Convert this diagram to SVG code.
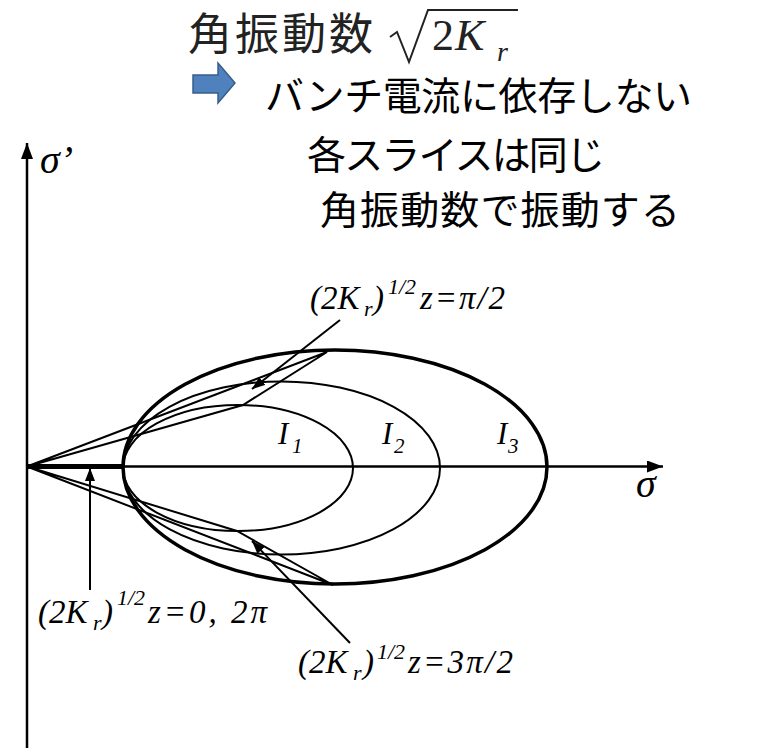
<svg xmlns="http://www.w3.org/2000/svg" width="780" height="748" viewBox="0 0 780 748">
<style>
.ax{stroke:#000;stroke-width:2.5;fill:none}
.ln{stroke:#000;stroke-width:2;fill:none}
.thk{stroke:#000;stroke-width:3.5;fill:none}
.m{font-family:"Liberation Serif","Times New Roman",serif;font-style:italic;fill:#000}
.jp{font-family:"Noto Sans CJK JP","Noto Sans",sans-serif;font-size:39px;fill:#000}
</style>
<defs>
<marker id="axh" markerUnits="userSpaceOnUse" markerWidth="18" markerHeight="14" refX="16" refY="6" orient="auto">
<path d="M0,0 L16,6 L0,12 Z" fill="#000"/>
</marker>
<marker id="ldh" markerUnits="userSpaceOnUse" markerWidth="14" markerHeight="12" refX="13" refY="5" orient="auto">
<path d="M0,0 L13,5 L0,10 Z" fill="#000"/>
</marker>
</defs>

<g id="title">
<text x="188" y="50" font-family="Noto Sans CJK JP,sans-serif" font-size="44" textLength="185" fill="#222">角振動数</text>
<path d="M390,37 L397,32 L409,62 L428,10 L518,10" stroke="#222" stroke-width="2" fill="none"/>
<text x="432" y="50" font-family="Liberation Serif,serif" font-size="44" fill="#222">2</text>
<text x="455" y="50" font-family="Liberation Serif,serif" font-style="italic" font-size="44" fill="#222">K</text>
<text x="497" y="61" font-family="Liberation Serif,serif" font-style="italic" font-size="28" fill="#222">r</text>
</g>

<g id="arrow-icon">
<path d="M193,75 L218,75 L218,63 L235,83 L218,103 L218,93 L193,93 Z" fill="#4F81BD" stroke="#385D8A" stroke-width="1.5"/>
</g>

<g id="note">
<text class="jp" x="265" y="110" textLength="427">バンチ電流に依存しない</text>
<text class="jp" x="307" y="169" textLength="298">各スライスは同じ</text>
<text class="jp" x="320" y="224" textLength="360">角振動数で振動する</text>
</g>

<g id="axes">
<line class="ax" x1="27" y1="748" x2="27" y2="143" marker-end="url(#axh)"/>
<line class="ax" x1="27" y1="466.5" x2="663" y2="466.5" marker-end="url(#axh)"/>
<line x1="27" y1="466.5" x2="123" y2="466.5" stroke="#000" stroke-width="5"/>
<text class="m" x="40" y="173" font-size="40">σ’</text>
<text class="m" x="636" y="497" font-size="40">σ</text>
</g>

<g id="ellipse-I1">
<ellipse class="ln" cx="238" cy="468" rx="115" ry="63"/>
<text class="m" x="278" y="444" font-size="31">I<tspan font-size="21" x="292" y="453">1</tspan></text>
</g>
<g id="ellipse-I2">
<ellipse class="ln" cx="281.5" cy="468" rx="158.5" ry="86.5"/>
<text class="m" x="382" y="444" font-size="31">I<tspan font-size="21" x="394" y="453">2</tspan></text>
</g>
<g id="ellipse-I3">
<ellipse class="thk" cx="335" cy="467" rx="212" ry="117"/>
<text class="m" x="497" y="444" font-size="31">I<tspan font-size="21" x="508" y="453">3</tspan></text>
</g>

<g id="slices">
<path class="ln" d="M27,466.5 L327,352 L243,405 Z"/>
<path class="ln" d="M27,466.5 L333,585 L237,531 Z"/>
</g>

<g id="connectors">
<line class="ln" x1="340" y1="320" x2="252" y2="389" marker-end="url(#ldh)"/>
<line class="ln" x1="350" y1="643" x2="252" y2="541" marker-end="url(#ldh)"/>
<line class="ln" x1="90" y1="590" x2="90" y2="468" marker-end="url(#ldh)"/>
</g>

<g id="label-pi2">
<text class="m" font-size="33"><tspan x="310" y="309">(2K</tspan><tspan font-size="22" x="364" y="316">r</tspan><tspan x="373" y="309">)</tspan><tspan font-size="22" x="388" y="294">1/2</tspan><tspan x="420" y="309" textLength="85">z=π/2</tspan></text>
</g>
<g id="label-0">
<text class="m" font-size="33"><tspan x="38" y="623">(2K</tspan><tspan font-size="22" x="93" y="630">r</tspan><tspan x="102" y="623">)</tspan><tspan font-size="22" x="117" y="605">1/2</tspan><tspan x="148" y="623" textLength="119">z=0, 2π</tspan></text>
</g>
<g id="label-3pi2">
<text class="m" font-size="33"><tspan x="298" y="673">(2K</tspan><tspan font-size="22" x="353" y="680">r</tspan><tspan x="363" y="673">)</tspan><tspan font-size="22" x="377" y="659">1/2</tspan><tspan x="408" y="673" textLength="105">z=3π/2</tspan></text>
</g>
</svg>
